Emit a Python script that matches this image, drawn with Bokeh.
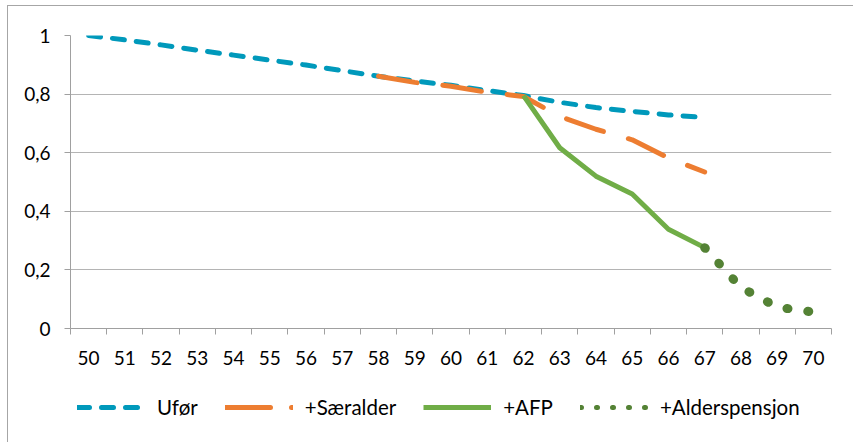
from bokeh.plotting import figure
from bokeh.layouts import column
from bokeh.models import (FixedTicker, CustomJSTickFormatter, Legend, LegendItem, Range1d)
from bokeh.embed import file_html
from bokeh.resources import INLINE

# ---- data ----
ages = list(range(50, 71))
age_labels = [str(a) for a in ages]

ufor_age = list(range(50, 68))
ufor = [1.0, 0.985, 0.968, 0.95, 0.933, 0.916, 0.899, 0.88, 0.861, 0.845,
        0.83, 0.812, 0.795, 0.772, 0.754, 0.741, 0.729, 0.72]

saer_age = list(range(58, 68))
saer = [0.861, 0.84, 0.827, 0.806, 0.792, 0.724, 0.68, 0.644, 0.582, 0.534]

afp_age = list(range(62, 68))
afp = [0.795, 0.617, 0.52, 0.459, 0.339, 0.276]

alder_age = list(range(67, 71))
alder = [0.276, 0.14, 0.073, 0.056]

y_ticks = [0, 0.2, 0.4, 0.6, 0.8, 1.0]

series_names = ["Ufør", "+Særalder", "+AFP", "+Alderspensjon"]

BLUE = "#0099BB"
ORANGE = "#ED7D31"
GREEN = "#70AD47"
DGREEN = "#548235"
FONT = "Lato"
FS = "19px"

p = figure(width=845, height=370, output_backend="svg", toolbar_location=None,
           x_range=Range1d(49.5, 70.5), y_range=Range1d(0, 1),
           min_border_left=62, min_border_right=22, min_border_top=29,
           min_border_bottom=48)
p.outline_line_color = None
p.background_fill_color = "white"
p.border_fill_color = "white"

# axes
xa = p.xaxis[0]
xa.ticker = FixedTicker(ticks=ages, minor_ticks=[a - 0.5 for a in ages] + [70.5])
xa.major_label_overrides = {a: s for a, s in zip(ages, age_labels)}
xa.major_tick_line_color = None
xa.minor_tick_in = 0
xa.minor_tick_out = 6
xa.minor_tick_line_color = "#A0A0A0"
xa.axis_line_color = "#A0A0A0"
xa.major_label_standoff = 16
xa.major_label_text_font = FONT
xa.major_label_text_font_size = FS
xa.major_label_text_color = "black"

ya = p.yaxis[0]
ya.ticker = FixedTicker(ticks=y_ticks, minor_ticks=[])
ya.formatter = CustomJSTickFormatter(code="return (Math.round(tick*10)/10).toString().replace('.', ',');")
ya.major_tick_in = 0
ya.major_tick_out = 6
ya.major_tick_line_color = "#A0A0A0"
ya.axis_line_color = "#A0A0A0"
ya.major_label_standoff = 14
ya.major_label_text_font = FONT
ya.major_label_text_font_size = FS
ya.major_label_text_color = "black"

p.xgrid.grid_line_color = None
p.ygrid.grid_line_color = "#B4B4B4"
p.ygrid.grid_line_width = 1
p.ygrid.ticker = FixedTicker(ticks=y_ticks[1:])

# series
p.line(ufor_age, ufor, line_color=BLUE, line_width=5, line_dash="12 12", line_cap="round")
p.line(saer_age, saer, line_color=ORANGE, line_width=5, line_dash="39 26", line_cap="round")
p.line(afp_age, afp, line_color=GREEN, line_width=5, line_join="round")
p.line(alder_age, alder, line_color=DGREEN, line_width=9, line_dash="1 20", line_cap="round")

# legend figure (series drawn off-range there, only their legend samples show)
p2 = figure(width=845, height=66, output_backend="svg", toolbar_location=None,
            x_range=Range1d(0, 1), y_range=Range1d(0, 1),
            x_axis_type=None, y_axis_type=None, min_border=0)
p2.outline_line_color = None
p2.xgrid.visible = False
p2.ygrid.visible = False

l1 = p2.line(ufor_age, ufor, line_color=BLUE, line_width=5, line_dash="12 12", line_cap="round")
l2 = p2.line(saer_age, saer, line_color=ORANGE, line_width=5, line_dash="45 21", line_cap="round")
l3 = p2.line(afp_age, afp, line_color=GREEN, line_width=5)
l4 = p2.line(alder_age, alder, line_color=DGREEN, line_width=5, line_dash="1 15", line_cap="round")

legend = Legend(items=[LegendItem(label=n, renderers=[r])
                       for n, r in zip(series_names, [l1, l2, l3, l4])],
                orientation="horizontal", location=(7, 23),
                glyph_width=68, glyph_height=20, label_height=20,
                label_standoff=12, spacing=27, padding=0, margin=0,
                border_line_color=None, background_fill_alpha=0,
                label_text_font=FONT, label_text_font_size="20.5px",
                label_text_color="black")
p2.add_layout(legend, "center")

layout = column(p, p2, spacing=0,
                styles={"border-left": "1px solid #A6A6A6", "border-top": "1px solid #A6A6A6",
                        "margin-left": "7px", "margin-top": "5px"})

open("out.html", "w").write(file_html(layout, INLINE))
